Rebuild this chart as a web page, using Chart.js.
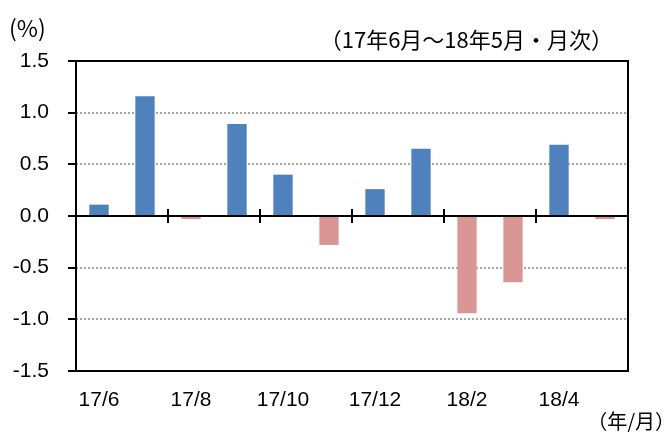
<!DOCTYPE html>
<html>
<head>
<meta charset="utf-8">
<script src="https://cdn.jsdelivr.net/npm/chart.js@4/dist/chart.umd.min.js"></script>
<style>
  html, body { margin: 0; padding: 0; background: #fff; }
  #caixa { width: 669px; height: 432px; position: relative; }
</style>
</head>
<body>
<div id="caixa"><canvas id="graficoMensal"></canvas></div>
<script>
// meses do eixo X e variacao mensal (%)
var meses = ['17/6', '17/7', '17/8', '17/9', '17/10', '17/11', '17/12', '18/1', '18/2', '18/3', '18/4', '18/5'];
var variacao = [0.11, 1.16, -0.03, 0.89, 0.40, -0.28, 0.26, 0.65, -0.94, -0.64, 0.69, -0.03];
var ticksY = [-1.5, -1.0, -0.5, 0.0, 0.5, 1.0, 1.5];
var textoUnidade = '(%)';
var textoPeriodo = '（17年6月～18年5月・月次）';
var textoEixoX = '（年/月）';

var fonteNum = '"Liberation Sans", Arial, sans-serif';
var fonteJp = '"Noto Sans CJK JP", "Liberation Sans", sans-serif';

// moldura, linha do zero, tracinhos e textos
var molduraPlugin = {
  id: 'moldura',
  afterDatasetsDraw: function (chart) {
    var c = chart.ctx;
    var a = chart.chartArea;
    var x = chart.scales.x;
    var y = chart.scales.y;
    var y0 = y.getPixelForValue(0);
    c.save();
    c.strokeStyle = '#000';
    c.lineWidth = 2;
    c.strokeRect(a.left, a.top, a.right - a.left, a.bottom - a.top);
    c.beginPath();
    c.moveTo(a.left, y0);
    c.lineTo(a.right, y0);
    c.stroke();
    for (var i = 2; i < meses.length; i += 2) {
      var px = (x.getPixelForValue(i - 1) + x.getPixelForValue(i)) / 2;
      c.beginPath();
      c.moveTo(px, y0 - 7);
      c.lineTo(px, y0 + 7);
      c.stroke();
    }
    c.fillStyle = '#000';
    c.textBaseline = 'middle';
    c.font = '23px ' + fonteJp;
    c.textAlign = 'left';
    c.fillText(textoUnidade, 9, 28);
    c.font = '22px ' + fonteJp;
    c.textAlign = 'right';
    c.fillText(textoPeriodo, 613, 40);
    c.font = '20px ' + fonteJp;
    c.fillText(textoEixoX, 675, 421);
    c.restore();
  }
};

var ctx = document.getElementById('graficoMensal').getContext('2d');
var chart = new Chart(ctx, {
  type: 'bar',
  data: {
    labels: meses,
    datasets: [
      {
        data: variacao,
        backgroundColor: variacao.map(function (v) { return v >= 0 ? '#4f81bd' : '#d99694'; }),
        borderWidth: 0,
        barPercentage: 0.42,
        categoryPercentage: 1.0
      }
    ]
  },
  options: {
    responsive: true,
    maintainAspectRatio: false,
    animation: false,
    layout: { padding: { left: 0, right: 41, top: 61, bottom: 0 } },
    plugins: {
      legend: { display: false },
      tooltip: { enabled: false }
    },
    scales: {
      x: {
        grid: { display: false },
        border: { display: false },
        ticks: {
          autoSkip: false,
          maxRotation: 0,
          padding: 9,
          color: '#000',
          font: { size: 21, family: fonteNum },
          callback: function (val, i) { return i % 2 === 0 ? meses[i] : ''; }
        },
        afterFit: function (scale) { scale.height = 61; }
      },
      y: {
        min: -1.5,
        max: 1.5,
        afterBuildTicks: function (scale) {
          scale.ticks = ticksY.map(function (v) { return { value: v }; });
        },
        grid: {
          color: function (c) {
            var v = c.tick ? c.tick.value : 0;
            return (v === 0 || Math.abs(v) > 1.4) ? 'rgba(0,0,0,0)' : '#a6a6a6';
          },
          lineWidth: 2,
          tickColor: '#000',
          tickLength: 8,
          tickWidth: 2,
          tickBorderDash: []
        },
        border: { display: false, dash: [2, 2] },
        ticks: {
          padding: 19,
          color: '#000',
          font: { size: 21, family: fonteNum },
          callback: function (v) { return Number(v).toFixed(1); }
        },
        afterFit: function (scale) { scale.width = 76; }
      }
    }
  },
  plugins: [molduraPlugin]
});
</script>
</body>
</html>
